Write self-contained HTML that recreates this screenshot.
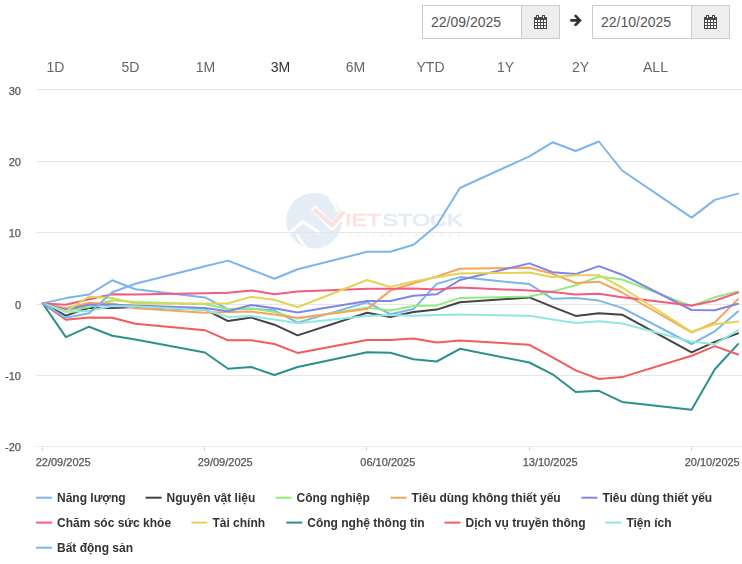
<!DOCTYPE html>
<html><head><meta charset="utf-8">
<style>
html,body{margin:0;padding:0;background:#fff;width:742px;height:564px;overflow:hidden;position:relative;font-family:"Liberation Sans",sans-serif;}
.box{position:absolute;top:5px;width:136px;height:32px;border:1px solid #ccc;background:#fff;}
.box .txt{position:absolute;left:8px;top:0;line-height:32px;font-size:14px;color:#555;}
.box .add{position:absolute;left:98px;top:0;width:37px;height:32px;background:#eee;border-left:1px solid #ccc;}
.rng{position:absolute;top:57px;will-change:transform;width:75px;text-align:center;font-size:14px;color:#666;line-height:20px;}
.rng.sel{color:#333;}
svg{position:absolute;left:0;top:0;will-change:transform;}
svg text{font-family:"Liberation Sans",sans-serif;}
</style></head><body>
<div class="box" style="left:422px"><div class="txt">22/09/2025</div><div class="add"></div></div>
<div class="box" style="left:592px"><div class="txt">22/10/2025</div><div class="add"></div></div>
<div class="rng" style="left:17.5px">1D</div>
<div class="rng" style="left:92.5px">5D</div>
<div class="rng" style="left:167.5px">1M</div>
<div class="rng sel" style="left:242.5px">3M</div>
<div class="rng" style="left:317.5px">6M</div>
<div class="rng" style="left:392.5px">YTD</div>
<div class="rng" style="left:467.5px">1Y</div>
<div class="rng" style="left:542.5px">2Y</div>
<div class="rng" style="left:617.5px">ALL</div>
<svg width="742" height="564" viewBox="0 0 742 564">
<g transform="translate(534,15)"><rect x="0" y="2" width="13" height="12" fill="#484848"/><rect x="1" y="5" width="2" height="2" fill="#fff"/><rect x="1" y="8" width="2" height="2" fill="#fff"/><rect x="1" y="11" width="2" height="2" fill="#fff"/><rect x="4" y="5" width="2" height="2" fill="#fff"/><rect x="4" y="8" width="2" height="2" fill="#fff"/><rect x="4" y="11" width="2" height="2" fill="#fff"/><rect x="7" y="5" width="2" height="2" fill="#fff"/><rect x="7" y="8" width="2" height="2" fill="#fff"/><rect x="7" y="11" width="2" height="2" fill="#fff"/><rect x="10" y="5" width="2" height="2" fill="#fff"/><rect x="10" y="8" width="2" height="2" fill="#fff"/><rect x="10" y="11" width="2" height="2" fill="#fff"/><rect x="2" y="0" width="3" height="3" fill="#484848"/><rect x="3" y="1" width="1" height="2" fill="#dfe"/><rect x="8" y="0" width="3" height="3" fill="#484848"/><rect x="9" y="1" width="1" height="2" fill="#dfe"/></g>
<g transform="translate(704,15)"><rect x="0" y="2" width="13" height="12" fill="#484848"/><rect x="1" y="5" width="2" height="2" fill="#fff"/><rect x="1" y="8" width="2" height="2" fill="#fff"/><rect x="1" y="11" width="2" height="2" fill="#fff"/><rect x="4" y="5" width="2" height="2" fill="#fff"/><rect x="4" y="8" width="2" height="2" fill="#fff"/><rect x="4" y="11" width="2" height="2" fill="#fff"/><rect x="7" y="5" width="2" height="2" fill="#fff"/><rect x="7" y="8" width="2" height="2" fill="#fff"/><rect x="7" y="11" width="2" height="2" fill="#fff"/><rect x="10" y="5" width="2" height="2" fill="#fff"/><rect x="10" y="8" width="2" height="2" fill="#fff"/><rect x="10" y="11" width="2" height="2" fill="#fff"/><rect x="2" y="0" width="3" height="3" fill="#484848"/><rect x="3" y="1" width="1" height="2" fill="#dfe"/><rect x="8" y="0" width="3" height="3" fill="#484848"/><rect x="9" y="1" width="1" height="2" fill="#dfe"/></g>
<path d="M571.4 20.4H578.5M575.6 15.9L579.9 20.4L575.6 24.9" stroke="#333" stroke-width="2.7" fill="none" stroke-linecap="round" stroke-linejoin="miter"/>
<g id="wm">
 <circle cx="314" cy="220.7" r="27.8" fill="#e5edf7"/>
 <path d="M289.5 233 L302.5 221.5 L320 233" stroke="#fff" stroke-width="3.2" fill="none" stroke-linejoin="miter"/>
 <path d="M297 234.5 Q302 244 309 250" stroke="#fff" stroke-width="2.5" fill="none"/>
 <path d="M329.5 197.5 Q335 204 338 212" stroke="#fff" stroke-width="2.5" fill="none"/>
 <path d="M313 207.5 L332 226.5 L345.5 210" stroke="#fff" stroke-width="7" fill="none" stroke-linejoin="round"/>
 <path d="M314 209.5 L332 225 L344 211.5" stroke="#fbe3e3" stroke-width="4.5" fill="none" stroke-linejoin="miter"/>
 <text x="345" y="225.7" font-size="16.5" fill="#fbe3e3" stroke="#fbe3e3" stroke-width="0.7" textLength="36" lengthAdjust="spacingAndGlyphs">IET</text>
 <text x="382.5" y="225.7" font-size="16.5" fill="#e5ebf5" stroke="#e5ebf5" stroke-width="0.7" textLength="80" lengthAdjust="spacingAndGlyphs">STOCK</text>
 <text x="349.5" y="237.4" font-size="7.5" fill="#f0f0f0" textLength="111" lengthAdjust="spacing">refresh always</text>
</g>
<path d="M36 89.5H742" stroke="#e6e6e6" stroke-width="1"/><path d="M36 161.5H742" stroke="#e6e6e6" stroke-width="1"/><path d="M36 232.5H742" stroke="#e6e6e6" stroke-width="1"/><path d="M36 304.5H742" stroke="#e6e6e6" stroke-width="1"/><path d="M36 375.5H742" stroke="#e6e6e6" stroke-width="1"/><path d="M36 446.5H742" stroke="#ececec" stroke-width="1"/>
<path d="M42.5 447V451" stroke="#ccd6eb" stroke-width="1"/><path d="M204.5 447V451" stroke="#ccd6eb" stroke-width="1"/><path d="M366.5 447V451" stroke="#ccd6eb" stroke-width="1"/><path d="M529.5 447V451" stroke="#ccd6eb" stroke-width="1"/><path d="M691.5 447V451" stroke="#ccd6eb" stroke-width="1"/>
<g font-size="11" fill="#555" stroke="#555" stroke-width="0.25"><text x="21" y="95" text-anchor="end">30</text><text x="21" y="166.2" text-anchor="end">20</text><text x="21" y="236.8" text-anchor="end">10</text><text x="21" y="308.7" text-anchor="end">0</text><text x="21" y="379.8" text-anchor="end">-10</text><text x="21" y="451" text-anchor="end">-20</text><text x="35.7" y="466">22/09/2025</text><text x="197.7" y="466">29/09/2025</text><text x="360.3" y="466">06/10/2025</text><text x="522.7" y="466">13/10/2025</text><text x="684.7" y="466">20/10/2025</text></g>

<g fill="none" stroke-width="2" stroke-linejoin="round" stroke-linecap="round">
<polyline points="42.7,303.4 65.9,298.1 89.1,294.5 112.2,280.3 135.4,289.2 204.9,297.4 228.1,309.2 251.3,308.7 274.4,310.3 297.6,322.6 367.1,302.4 390.3,314.2 413.5,309.1 436.7,283.9 459.9,277.1 529.4,284.1 552.6,298.8 575.7,297.9 598.9,300.6 622.1,307.9 691.6,344.0 714.8,331.3 738.0,311.4" stroke="#7cb5ec"/><polyline points="42.7,303.4 65.9,315.6 89.1,307.7 112.2,308.0 135.4,307.0 204.9,309.4 228.1,321.1 251.3,317.6 274.4,324.7 297.6,335.4 367.1,312.7 390.3,317.0 413.5,312.1 436.7,309.6 459.9,302.2 529.4,297.4 552.6,306.9 575.7,315.9 598.9,313.2 622.1,314.7 691.6,352.4 714.8,341.9 738.0,333.4" stroke="#434348"/><polyline points="42.7,303.4 65.9,310.8 89.1,307.0 112.2,300.3 135.4,302.0 204.9,304.2 228.1,308.9 251.3,308.4 274.4,311.9 297.6,318.6 367.1,307.7 390.3,310.6 413.5,306.1 436.7,305.4 459.9,297.9 529.4,296.6 552.6,291.4 575.7,285.3 598.9,276.6 622.1,279.5 691.6,306.1 714.8,297.2 738.0,291.4" stroke="#90ed7d"/><polyline points="42.7,303.4 65.9,308.2 89.1,303.1 112.2,303.4 135.4,308.2 204.9,312.7 228.1,312.0 251.3,311.6 274.4,314.6 297.6,318.0 367.1,309.1 390.3,290.6 413.5,283.2 436.7,276.5 459.9,268.7 529.4,267.7 552.6,273.9 575.7,283.0 598.9,281.7 622.1,292.5 691.6,332.5 714.8,322.4 738.0,299.3" stroke="#f7a35c"/><polyline points="42.7,303.4 65.9,309.8 89.1,304.7 112.2,304.7 135.4,305.6 204.9,308.0 228.1,311.2 251.3,305.0 274.4,308.2 297.6,312.4 367.1,301.1 390.3,301.0 413.5,295.8 436.7,294.3 459.9,280.0 529.4,263.4 552.6,272.3 575.7,274.1 598.9,266.1 622.1,274.7 691.6,310.0 714.8,310.3 738.0,303.8" stroke="#8085e9"/><polyline points="42.7,303.4 65.9,304.7 89.1,299.3 112.2,294.2 135.4,294.4 204.9,293.2 228.1,292.8 251.3,290.4 274.4,294.3 297.6,291.6 367.1,288.8 390.3,288.8 413.5,288.4 436.7,289.4 459.9,287.5 529.4,290.5 552.6,292.1 575.7,294.4 598.9,293.8 622.1,297.2 691.6,305.6 714.8,300.8 738.0,292.6" stroke="#f15c80"/><polyline points="42.7,303.4 65.9,311.3 89.1,296.5 112.2,297.9 135.4,303.8 204.9,303.6 228.1,303.2 251.3,296.9 274.4,299.7 297.6,307.2 367.1,280.0 390.3,287.0 413.5,281.4 436.7,277.2 459.9,273.5 529.4,272.6 552.6,277.2 575.7,275.2 598.9,275.2 622.1,287.5 691.6,331.8 714.8,324.2 738.0,321.5" stroke="#e4d354"/><polyline points="42.7,303.4 65.9,337.1 89.1,326.7 112.2,335.7 135.4,339.5 204.9,352.5 228.1,368.7 251.3,367.0 274.4,375.0 297.6,367.0 367.1,352.3 390.3,352.8 413.5,359.2 436.7,361.5 459.9,348.8 529.4,362.5 552.6,374.3 575.7,392.0 598.9,390.8 622.1,401.9 691.6,409.7 714.8,369.2 738.0,344.1" stroke="#2b908f"/><polyline points="42.7,303.4 65.9,319.8 89.1,317.6 112.2,317.8 135.4,323.8 204.9,330.2 228.1,340.3 251.3,340.3 274.4,344.0 297.6,352.9 367.1,340.0 390.3,340.0 413.5,338.4 436.7,342.5 459.9,340.5 529.4,344.8 552.6,357.4 575.7,370.4 598.9,379.0 622.1,377.1 691.6,355.8 714.8,346.1 738.0,354.5" stroke="#f45b5b"/><polyline points="42.7,303.4 65.9,312.1 89.1,310.7 112.2,306.0 135.4,306.5 204.9,310.0 228.1,316.9 251.3,316.0 274.4,319.4 297.6,323.3 367.1,316.0 390.3,315.0 413.5,315.8 436.7,315.0 459.9,314.6 529.4,315.8 552.6,319.4 575.7,323.1 598.9,321.3 622.1,323.5 691.6,341.6 714.8,344.2 738.0,330.4" stroke="#91e8e1"/><polyline points="42.7,303.4 65.9,317.8 89.1,313.2 112.2,292.3 135.4,283.7 204.9,266.2 228.1,260.6 251.3,269.7 274.4,278.8 297.6,269.3 367.1,251.8 390.3,251.8 413.5,244.8 436.7,225.5 459.9,188.0 529.4,156.4 552.6,142.3 575.7,151.0 598.9,141.5 622.1,170.5 691.6,217.6 714.8,199.9 738.0,193.6" stroke="#7cb5ec"/>
</g>
<g font-size="12" font-weight="bold" fill="#333"><path d="M36.0 497.7h16" stroke="#7cb5ec" stroke-width="2"/><text x="57.0" y="501.7">Năng lượng</text><path d="M145.6 497.7h16" stroke="#434348" stroke-width="2"/><text x="166.6" y="501.7">Nguyên vật liệu</text><path d="M275.5 497.7h16" stroke="#90ed7d" stroke-width="2"/><text x="296.5" y="501.7">Công nghiệp</text><path d="M390.6 497.7h16" stroke="#f7a35c" stroke-width="2"/><text x="411.6" y="501.7">Tiêu dùng không thiết yếu</text><path d="M581.4 497.7h16" stroke="#8085e9" stroke-width="2"/><text x="602.4" y="501.7">Tiêu dùng thiết yếu</text><path d="M36.0 522.6h16" stroke="#f15c80" stroke-width="2"/><text x="57.0" y="526.6">Chăm sóc sức khỏe</text><path d="M191.4 522.6h16" stroke="#e4d354" stroke-width="2"/><text x="212.4" y="526.6">Tài chính</text><path d="M286.3 522.6h16" stroke="#2b908f" stroke-width="2"/><text x="307.3" y="526.6">Công nghệ thông tin</text><path d="M444.5 522.6h16" stroke="#f45b5b" stroke-width="2"/><text x="465.5" y="526.6">Dịch vụ truyền thông</text><path d="M605.4 522.6h16" stroke="#91e8e1" stroke-width="2"/><text x="626.4" y="526.6">Tiện ích</text><path d="M36.0 547.7h16" stroke="#7cb5ec" stroke-width="2"/><text x="57.0" y="551.5">Bất động sản</text></g>
</svg>
</body></html>
